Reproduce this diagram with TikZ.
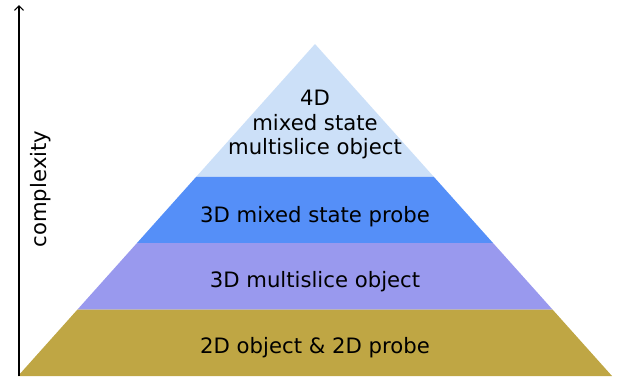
\documentclass[tikz,border=0pt]{standalone}
\usepackage{fontspec}
\setmainfont{DejaVu Sans}
\usetikzlibrary{calc,arrows.meta}
\definecolor{tierbase}{HTML}{BFA644}
\definecolor{tierobj}{HTML}{9999EE}
\definecolor{tierprobe}{HTML}{558FF8}
\definecolor{tiertop}{HTML}{CCE0F8}
\begin{document}
\begin{tikzpicture}[
  x=1bp, y=-1bp,
  font=\fontsize{21.2bp}{24.5bp}\selectfont,
  label/.style={inner sep=0pt, text=black, align=center},
  axis/.style={draw=black, line width=1.2bp, -{Straight Barb[length=4.5bp,width=9bp]}}
]
\useasboundingbox (0,0) rectangle (632,379);
% pyramid corners
\coordinate (apex) at (315,44);
\coordinate (bl) at (18,376);
\coordinate (br) at (612,376);
% tiers, cut at 0.4 / 0.6 / 0.8 of the height
\fill[tiertop] (apex) -- ($(apex)!0.4!(bl)$) -- ($(apex)!0.4!(br)$) -- cycle;
\fill[tierprobe] ($(apex)!0.4!(bl)$) -- ($(apex)!0.6!(bl)$) -- ($(apex)!0.6!(br)$) -- ($(apex)!0.4!(br)$) -- cycle;
\fill[tierobj] ($(apex)!0.6!(bl)$) -- ($(apex)!0.8!(bl)$) -- ($(apex)!0.8!(br)$) -- ($(apex)!0.6!(br)$) -- cycle;
\fill[tierbase] ($(apex)!0.8!(bl)$) -- (bl) -- (br) -- ($(apex)!0.8!(br)$) -- cycle;
\node[label] (top) at (315,124.7) {4D\\mixed state\\multislice object};
\node[label, anchor=base] (probe) at (315,222) {3D mixed state probe};
\node[label, anchor=base] (object) at (315,287) {3D multislice object};
\node[label, anchor=base] (base) at (315,353) {2D object \& 2D probe};
% complexity axis
\coordinate (low) at (19,376);
\coordinate (high) at (19,5);
\draw[axis] (low) -- (high);
\node[label, rotate=90] (cplx) at (41,189) {complexity};
\end{tikzpicture}
\end{document}
